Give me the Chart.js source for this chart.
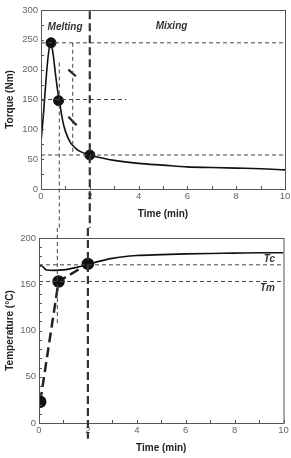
<!DOCTYPE html>
<html>
<head>
<meta charset="utf-8">
<script src="https://cdn.jsdelivr.net/npm/chart.js@4.4.0/dist/chart.umd.min.js"></script>
<style>
  body { margin: 0; background: #fff; }
  #wrap { position: relative; width: 291px; height: 458px; }
  canvas { position: absolute; left: 0; }
  #top { top: 0; }
  #bottom { top: 228px; }
</style>
</head>
<body>
<div id="wrap">
  <canvas id="top" width="291" height="228"></canvas>
  <canvas id="bottom" width="291" height="230"></canvas>
</div>
<script>
// Torque chart data
let torqueTime   = [0, 0.1, 0.2, 0.3, 0.4, 0.5, 0.6, 0.7, 0.75, 0.9, 1.0, 1.2, 1.4, 1.6, 2.0, 2.5, 3, 4, 5, 6, 7, 8, 9, 10];
let torqueValues = [79, 125, 180, 225, 245, 225, 190, 160, 148, 112, 97, 78, 69, 63, 57, 52, 48, 43, 40, 37, 36, 35, 34, 32];
let torqueMarkX  = [0.41, 0.72, 2.0];
let torqueMarkY  = [245, 148, 57];

// Temperature chart data
let tempTime   = [0, 0.15, 0.3, 0.6, 1.0, 1.5, 2.0, 2.5, 3, 4, 5, 6, 7, 8, 9, 10];
let tempValues = [171, 169, 165.5, 165, 165.5, 168, 171.5, 175, 178, 181, 182, 182.8, 183.3, 183.6, 184, 184];
let heatX = [0.05, 0.8, 2.0];
let heatY = [23, 153, 172];
let tcValue = 171;
let tmValue = 153;

let xTicks = [0, 2, 4, 6, 8, 10];
let torqueTicks = [0, 50, 100, 150, 200, 250, 300];
let tempTicks = [0, 50, 100, 150, 200];

function pts(xs, ys) {
    return xs.map((x, i) => ({ x: x, y: ys[i] }));
}

function refLine(x1, y1, x2, y2, width, dash, color) {
    return {
        data: [{ x: x1, y: y1 }, { x: x2, y: y2 }],
        borderColor: color || "#444",
        borderWidth: width,
        borderDash: dash,
        pointRadius: 0,
        fill: false
    };
}

// frame, inward ticks, labels and lines that leave the plot area
const extras = {
    id: "extras",
    afterDraw(chart, args, opts) {
        let ctx = chart.ctx;
        let a = chart.chartArea;
        let xs = chart.scales.x, ys = chart.scales.y;
        ctx.save();
        ctx.strokeStyle = "#555";
        ctx.lineWidth = 1;
        ctx.setLineDash([]);
        ctx.strokeRect(a.left + 0.5, a.top + 0.5, a.right - a.left, a.bottom - a.top);
        // minor inward ticks
        for (let v = xs.min; v <= xs.max; v += 1) {
            let px = Math.round(xs.getPixelForValue(v)) + 0.5;
            ctx.beginPath();
            ctx.moveTo(px, a.bottom);
            ctx.lineTo(px, a.bottom - 3);
            ctx.stroke();
        }
        for (let v = ys.min; v <= ys.max; v += opts.yMinor) {
            let py = Math.round(ys.getPixelForValue(v)) + 0.5;
            ctx.beginPath();
            ctx.moveTo(a.left, py);
            ctx.lineTo(a.left + 3, py);
            ctx.stroke();
        }
        // long vertical lines
        (opts.vlines || []).forEach(l => {
            let px = xs.getPixelForValue(l.x);
            let y1 = l.from === "top" ? 0 : ys.getPixelForValue(l.from);
            let y2 = l.to === "bottom" ? chart.height : ys.getPixelForValue(l.to);
            ctx.strokeStyle = l.color;
            ctx.lineWidth = l.width;
            ctx.setLineDash(l.dash);
            ctx.beginPath();
            ctx.moveTo(px, y1);
            ctx.lineTo(px, y2);
            ctx.stroke();
        });
        // labels
        ctx.setLineDash([]);
        ctx.fillStyle = "#333";
        ctx.font = "italic bold 10px 'Liberation Sans', Arial, sans-serif";
        ctx.textBaseline = "middle";
        (opts.labels || []).forEach(l => {
            ctx.textAlign = l.align || "left";
            ctx.fillText(l.text, xs.getPixelForValue(l.x), ys.getPixelForValue(l.y));
        });
        ctx.restore();
    }
};

function axes(yMax, yTickList, yTitle, yWidth, xHeight, titlePad) {
    let tickFont = { family: "'Liberation Sans', Arial, sans-serif", size: 9.5 };
    let titleFont = { family: "'Liberation Sans', Arial, sans-serif", size: 10, weight: "bold" };
    return {
        x: {
            type: "linear", min: 0, max: 10,
            afterBuildTicks: s => { s.ticks = xTicks.map(v => ({ value: v })); },
            ticks: { color: "#666", font: tickFont, padding: 2, maxRotation: 0 },
            grid: { display: false, drawTicks: false },
            border: { display: false },
            title: { display: true, text: "Time (min)", color: "#222", font: titleFont, padding: { top: 2, bottom: titlePad } },
            afterFit: s => { s.height = xHeight; s.paddingRight = 0; s.paddingLeft = 0; }
        },
        y: {
            type: "linear", min: 0, max: yMax,
            afterBuildTicks: s => { s.ticks = yTickList.map(v => ({ value: v })); },
            ticks: { color: "#666", font: tickFont, padding: 3 },
            grid: { display: false, drawTicks: false },
            border: { display: false },
            title: { display: true, text: yTitle, color: "#222", font: titleFont, padding: { top: 4, bottom: 2 } },
            afterFit: s => { s.width = yWidth; }
        }
    };
}

new Chart(document.getElementById("top"), {
    type: "line",
    data: {
        datasets: [
            refLine(0, 245, 10, 245, 1, [4, 3]),
            refLine(0, 150, 3.5, 150, 1, [4, 3]),
            refLine(0, 57, 10, 57, 1, [4, 3]),
            refLine(1.3, 245, 1.3, 57, 1, [4, 3]),
            refLine(1.12, 200, 1.43, 189, 2.2, [], "#222"),
            refLine(1.12, 121, 1.46, 107, 2.2, [], "#222"),
            {
                data: pts(torqueTime, torqueValues),
                borderColor: "#111", borderWidth: 1.6, pointRadius: 0,
                tension: 0.35, cubicInterpolationMode: "monotone"
            },
            {
                data: pts(torqueMarkX, torqueMarkY),
                showLine: false, pointRadius: 5, pointBackgroundColor: "#111", pointBorderColor: "#111"
            }
        ]
    },
    options: {
        responsive: false, animation: false,
        layout: { padding: { top: 10, right: 4, left: 0, bottom: 0 } },
        plugins: {
            legend: { display: false }, tooltip: { enabled: false },
            extras: {
                yMinor: 25,
                vlines: [
                    { x: 0.75, from: 212, to: "bottom", width: 1, dash: [4, 3], color: "#444" },
                    { x: 2, from: 298, to: "bottom", width: 2.2, dash: [8, 4], color: "#333" }
                ],
                labels: [
                    { text: "Melting", x: 0.27, y: 271 },
                    { text: "Mixing", x: 4.7, y: 272 }
                ]
            }
        },
        scales: axes(300, torqueTicks, "Torque (Nm)", 41, 39, 8)
    },
    plugins: [extras]
});

new Chart(document.getElementById("bottom"), {
    type: "line",
    data: {
        datasets: [
            refLine(0, tcValue, 10, tcValue, 1, [4, 3]),
            refLine(0, tmValue, 10, tmValue, 1, [4, 3]),
            {
                data: pts(tempTime, tempValues),
                borderColor: "#111", borderWidth: 1.6, pointRadius: 0,
                tension: 0.35, cubicInterpolationMode: "monotone"
            },
            {
                data: pts(heatX, heatY),
                borderColor: "#222", borderWidth: 2.5, borderDash: [10, 5],
                pointRadius: 5, pointBackgroundColor: "#111", pointBorderColor: "#111"
            }
        ]
    },
    options: {
        responsive: false, animation: false,
        layout: { padding: { top: 10, right: 5, left: 0, bottom: 0 } },
        plugins: {
            legend: { display: false }, tooltip: { enabled: false },
            extras: {
                yMinor: 10,
                vlines: [
                    { x: 0.75, from: "top", to: 108, width: 1, dash: [4, 3], color: "#444" },
                    { x: 2, from: "top", to: -17, width: 2.2, dash: [8, 4], color: "#333" }
                ],
                labels: [
                    { text: "Tc", x: 9.65, y: 176.5, align: "right" },
                    { text: "Tm", x: 9.65, y: 146, align: "right" }
                ]
            }
        },
        scales: axes(200, tempTicks, "Temperature (°C)", 39, 35, 4)
    },
    plugins: [extras]
});
</script>
</body>
</html>
